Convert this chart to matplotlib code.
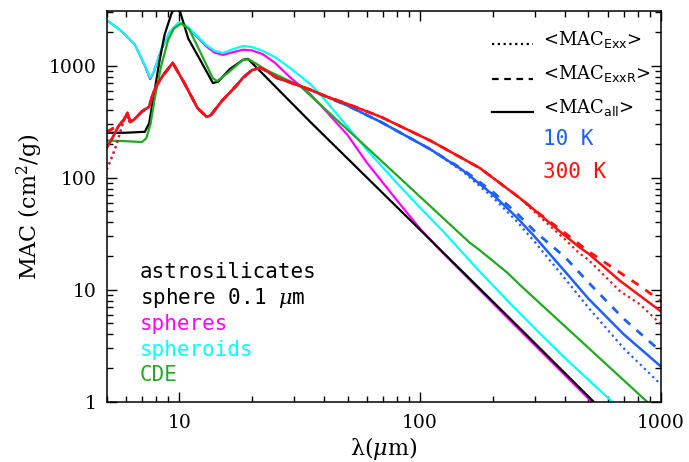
import matplotlib
matplotlib.use("Agg")
import matplotlib.pyplot as plt
from matplotlib.lines import Line2D
from matplotlib.ticker import FixedLocator, FixedFormatter, LogLocator, NullFormatter

plt.rcParams['mathtext.fontset'] = 'dejavuserif'

# ---------------- data ----------------
lam_black = [5, 6, 7.2, 7.5, 7.9, 8.3, 8.7, 9.3, 9.7, 10.1, 10.9, 12.5, 13.8, 14.5, 16.2, 18.4, 19.3, 35, 110, 243, 530, 1000]
mac_black = [252, 252, 257, 305, 600, 1130, 1900, 2950, 3400, 3000, 1750, 1030, 700, 720, 930, 1130, 1150, 315, 28, 5.2, 0.98, 0.26]

lam_mag = [5, 5.77, 6.55, 7.2, 7.57, 7.8, 8.46, 9.15, 9.9, 10.5, 11.2, 12.9, 14, 15.2, 16.5, 18.4, 20, 22.2, 25, 28.8,
           34.9, 40, 50, 60, 80, 100, 120, 243, 515, 1000]
mac_mag = [2560, 2030, 1540, 1000, 760, 850, 1420, 2000, 2380, 2330, 2050, 1500, 1310, 1250, 1310, 1390, 1370, 1270,
           1060, 790, 560, 410, 240, 137, 63, 35, 23, 5.0, 1.0, 0.26]

lam_cyan = [5, 5.77, 6.55, 7.2, 7.57, 7.8, 8.46, 9.15, 9.9, 10.5, 11.2, 12.9, 14, 15.2, 16.5, 18.4, 20, 22.2, 25, 28.8,
            34.9, 38.5, 50, 60.8, 80, 100, 125, 177, 243, 300, 400, 500, 627, 1000]
mac_cyan = [2560, 2030, 1540, 1010, 780, 860, 1430, 2020, 2410, 2350, 2080, 1540, 1360, 1300, 1390, 1500, 1470, 1360,
            1190, 960, 690, 555, 285, 173, 90, 54, 33, 14.5, 7.1, 4.5, 2.45, 1.57, 1.0, 0.38]

lam_green = [5, 6, 7, 7.3, 7.6, 7.9, 8.4, 9.0, 9.5, 10.2, 11, 12.8, 13.8, 14.4, 16, 18.4, 19.5, 23.1, 31.7, 56.6,
             160, 177, 230, 260, 875, 1000]
mac_green = [215, 212, 208, 225, 300, 500, 980, 1700, 2150, 2380, 2120, 1080, 770, 730, 870, 1130, 1140, 910, 660, 210,
             26.5, 22.5, 14.2, 11.0, 1.0, 0.77]

# common short-wavelength part of the 10 K / 300 K curves
lam_warm = [5.6, 5.9, 6.1, 6.25, 6.5, 7.0, 7.5, 7.8, 8.1, 8.6, 9.4, 10.5, 11.9, 13.0, 13.5, 15.1, 17, 18.4, 20, 21.7,
            23, 25.4, 30, 35, 40]
mac_warm = [290, 330, 380, 315, 330, 390, 430, 570, 680, 830, 1060, 700, 420, 350, 360, 490, 640, 780, 910, 960,
            900, 780, 690, 610, 540]

# 300 K
lam_red_all = [5, 5.3] + lam_warm + [50, 68.6, 110, 177, 259, 300, 381, 460, 500, 676, 1000]
mac_red_all = [185, 230] + mac_warm + [455, 350, 215, 122, 66, 51, 33, 23.8, 21, 12, 6.4]
lam_red_exxr = [5, 5.3] + lam_warm + [50, 68.6, 110, 177, 259, 300, 400, 500, 700, 818, 1000]
mac_red_exxr = [255, 275] + mac_warm + [455, 350, 215, 122, 66, 51, 32, 22, 13.5, 10.8, 7.9]
lam_red_exx = [5, 5.3, 5.5] + lam_warm[1:] + [50, 68.6, 110, 177, 259, 300, 400, 460, 500, 676, 818, 1000]
mac_red_exx = [118, 160, 200] + mac_warm[1:] + [455, 350, 215, 122, 66, 49, 28, 21, 18.5, 9.7, 7.4, 4.9]

# 10 K
lam_blue_all = [5, 5.3] + lam_warm + [50, 68.6, 110, 150, 200, 250, 300, 400, 500, 700, 1000]
mac_blue_all = [185, 230] + mac_warm + [440, 315, 180, 117, 71, 45, 29.5, 14.5, 8.3, 4.0, 2.06]
lam_blue_exxr = [5, 5.3] + lam_warm + [50, 68.6, 110, 150, 200, 250, 300, 400, 500, 700, 1000]
mac_blue_exxr = [255, 275] + mac_warm + [440, 315, 180, 119, 75, 49, 33, 19.5, 11.6, 5.5, 2.8]
lam_blue_exx = [5, 5.3, 5.5] + lam_warm[1:] + [50, 68.6, 110, 150, 200, 250, 300, 400, 500, 700, 1000]
mac_blue_exx = [118, 160, 200] + mac_warm[1:] + [440, 315, 180, 114, 67, 41.5, 26.5, 12.5, 6.9, 3.0, 1.42]

x_ticks = [10, 100, 1000]
x_ticklabels = ["10", "100", "1000"]
y_ticks = [1, 10, 100, 1000]
y_ticklabels = ["1", "10", "100", "1000"]

# ---------------- figure ----------------
W, H = 689, 462
fig = plt.figure(figsize=(W / 100, H / 100), dpi=100)
ax = fig.add_axes([106.7 / W, 1 - 401.7 / H, (661 - 106.7) / W, (401.7 - 11) / H])

GREEN = '#1faa1f'
BLUE = '#1f5fff'
RED = '#ff1010'
lw = 1.6

ax.plot(lam_mag, mac_mag, color='#ff00ff', lw=lw)
ax.plot(lam_cyan, mac_cyan, color='#00ffff', lw=lw)
ax.plot(lam_black, mac_black, color='black', lw=lw)
ax.plot(lam_green, mac_green, color=GREEN, lw=lw)

ax.plot(lam_blue_exx, mac_blue_exx, color=BLUE, lw=1.6, ls=(0, (1, 1.6)))
ax.plot(lam_blue_exxr, mac_blue_exxr, color=BLUE, lw=2.0, ls=(0, (3, 3)))
ax.plot(lam_blue_all, mac_blue_all, color=BLUE, lw=1.8)
ax.plot(lam_red_exx, mac_red_exx, color=RED, lw=1.6, ls=(0, (1, 1.6)))
ax.plot(lam_red_exxr, mac_red_exxr, color=RED, lw=2.0, ls=(0, (3, 3)))
ax.plot(lam_red_all, mac_red_all, color=RED, lw=1.8)

ax.set_xscale('log')
ax.set_yscale('log')
ax.set_xlim(5, 1000)
ax.set_ylim(1, 3080)

serif = 'DejaVu Serif'
ax.xaxis.set_major_locator(FixedLocator(x_ticks))
ax.xaxis.set_major_formatter(FixedFormatter(x_ticklabels))
ax.yaxis.set_major_locator(FixedLocator(y_ticks))
ax.yaxis.set_major_formatter(FixedFormatter(y_ticklabels))
ax.xaxis.set_minor_locator(LogLocator(base=10, subs=range(2, 10), numticks=20))
ax.yaxis.set_minor_locator(LogLocator(base=10, subs=range(2, 10), numticks=20))
ax.xaxis.set_minor_formatter(NullFormatter())
ax.yaxis.set_minor_formatter(NullFormatter())
ax.tick_params(which='both', direction='in', top=True, right=True, width=1.0, color='black')
ax.tick_params(which='major', length=7.5)
ax.tick_params(which='minor', length=4)
ax.tick_params(axis='x', which='major', pad=9)
ax.tick_params(axis='y', which='major', pad=7)
for lbl in ax.get_xticklabels() + ax.get_yticklabels():
    lbl.set_fontfamily(serif)
    lbl.set_fontsize(13.5)
for s in ax.spines.values():
    s.set_linewidth(1.1)

ax.set_xlabel(r'λ($\mu$m)', fontfamily=serif, fontsize=16, labelpad=2)
ax.set_ylabel(r'MAC (cm$^2$/g)', fontfamily=serif, fontsize=16, labelpad=3)

# left text block
mono = 'DejaVu Sans Mono'
fs_txt = 15
left_items = [("astrosilicates", 'black', 272), ("sphere 0.1 $\\mu$m", 'black', 298),
              ("spheres", '#ff00ff', 324), ("spheroids", '#00ffff', 350), ("CDE", GREEN, 375)]
for txt, col, py in left_items:
    fig.text(140 / W, 1 - py / H, txt, color=col, fontfamily=mono, fontsize=fs_txt, va='center', ha='left')

# legend (top right)
leg = [((0, (1, 1.6)), r'<MAC$_{\mathsf{Exx}}$>', 44, 40),
       ((0, (3, 2.5)), r'<MAC$_{\mathsf{ExxR}}$>', 79, 73),
       ('-', r'<MAC$_{\mathsf{all}}$>', 112, 107)]
for ls, txt, ly, ty in leg:
    fig.add_artist(Line2D([492 / W, 533 / W], [1 - ly / H, 1 - ly / H], color='black', lw=1.6, ls=ls,
                          transform=fig.transFigure))
    fig.text(543 / W, 1 - ty / H, txt, color='black', fontfamily=serif, fontsize=13, va='center', ha='left')
fig.text(543 / W, 1 - 139 / H, "10 K", color=BLUE, fontfamily=mono, fontsize=fs_txt, va='center', ha='left')
fig.text(543 / W, 1 - 172 / H, "300 K", color=RED, fontfamily=mono, fontsize=fs_txt, va='center', ha='left')

fig.savefig('out.png', dpi=100)
